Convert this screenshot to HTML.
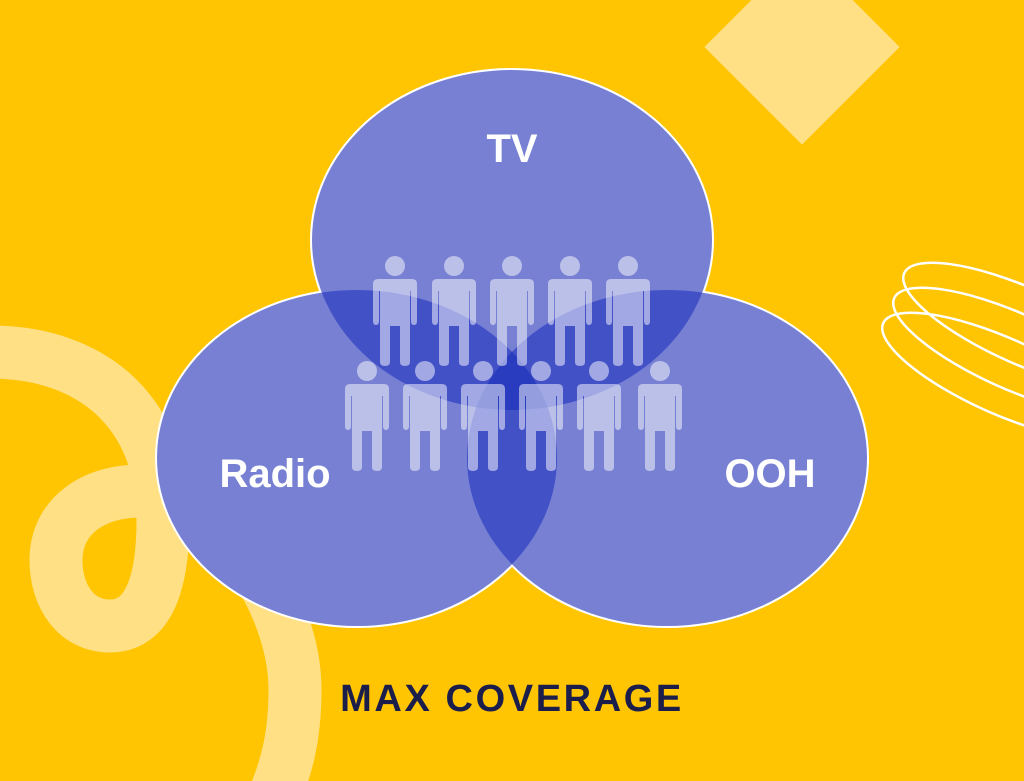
<!DOCTYPE html>
<html><head><meta charset="utf-8"><style>
html,body{margin:0;padding:0;}
body{width:1024px;height:781px;overflow:hidden;background:#FFC502;}
svg{display:block;}
</style></head><body>
<svg width="1024" height="781" viewBox="0 0 1024 781" xmlns="http://www.w3.org/2000/svg">
<defs>
<clipPath id="cTV"><ellipse cx="512" cy="240" rx="200" ry="170"/></clipPath>
<clipPath id="cR"><ellipse cx="357" cy="458" rx="200" ry="168"/></clipPath>
<clipPath id="cO"><ellipse cx="667" cy="458" rx="200" ry="168"/></clipPath>
<g id="p">
<circle cx="0" cy="0" r="10"/>
<path d="M-17 13 H17 Q22 13 22 18 V55 Q22 59 19 59 Q16 59 16 55 V25 H15 V96 Q15 100 10 100 Q5 100 5 96 V60 H-5 V96 Q-5 100 -10 100 Q-15 100 -15 96 V25 H-16 V55 Q-16 59 -19 59 Q-22 59 -22 55 V18 Q-22 13 -17 13 Z"/>
</g>
</defs>
<rect width="1024" height="781" fill="#FFC502"/>
<rect x="733" y="-22" width="138" height="138" fill="#FFE084" transform="rotate(45 802 47)"/>
<path d="M -10 352 C 90 352, 163 410, 163 520 C 163 600, 140 626, 110 626 C 75 626, 56 595, 56 560 C 56 515, 95 491, 140 491 C 220 491, 295 600, 295 690 C 295 740, 285 770, 275 795" fill="none" stroke="#FFE084" stroke-width="53"/>
<g fill="none" stroke="#fff" stroke-width="2.5">
<ellipse cx="1023" cy="326" rx="130" ry="38" transform="rotate(24 1023 326)"/>
<ellipse cx="1013" cy="351" rx="130" ry="38" transform="rotate(24 1013 351)"/>
<ellipse cx="1002" cy="376" rx="130" ry="38" transform="rotate(24 1002 376)"/>
</g>
<g fill="none" stroke="#fff" stroke-width="4">
<ellipse cx="512" cy="240" rx="200" ry="170"/>
<ellipse cx="357" cy="458" rx="200" ry="168"/>
<ellipse cx="667" cy="458" rx="200" ry="168"/>
</g>
<g fill="#7780D3">
<ellipse cx="512" cy="240" rx="200" ry="170"/>
<ellipse cx="357" cy="458" rx="200" ry="168"/>
<ellipse cx="667" cy="458" rx="200" ry="168"/>
</g>
<g fill="#4351C7">
<ellipse cx="357" cy="458" rx="200" ry="168" clip-path="url(#cTV)"/>
<ellipse cx="667" cy="458" rx="200" ry="168" clip-path="url(#cTV)"/>
<ellipse cx="667" cy="458" rx="200" ry="168" clip-path="url(#cR)"/>
</g>
<g clip-path="url(#cTV)"><ellipse cx="667" cy="458" rx="200" ry="168" fill="#293CBF" clip-path="url(#cR)"/></g>
<g fill="#fff" fill-opacity="0.5">
<use href="#p" x="395" y="266"/><use href="#p" x="454" y="266"/><use href="#p" x="512" y="266"/><use href="#p" x="570" y="266"/><use href="#p" x="628" y="266"/>
<use href="#p" x="367" y="371"/><use href="#p" x="425" y="371"/><use href="#p" x="483" y="371"/><use href="#p" x="541" y="371"/><use href="#p" x="599" y="371"/><use href="#p" x="660" y="371"/>
</g>
<g fill="#fff" font-family="Liberation Sans, sans-serif" font-weight="bold" font-size="40" text-anchor="middle">
<text x="512" y="162">TV</text>
<text x="275" y="487">Radio</text>
<text x="770" y="487">OOH</text>
</g>
<text x="512" y="711" fill="#1B1E4B" font-family="Liberation Sans, sans-serif" font-weight="bold" font-size="38" text-anchor="middle" letter-spacing="2.6">MAX COVERAGE</text>
</svg>
</body></html>
